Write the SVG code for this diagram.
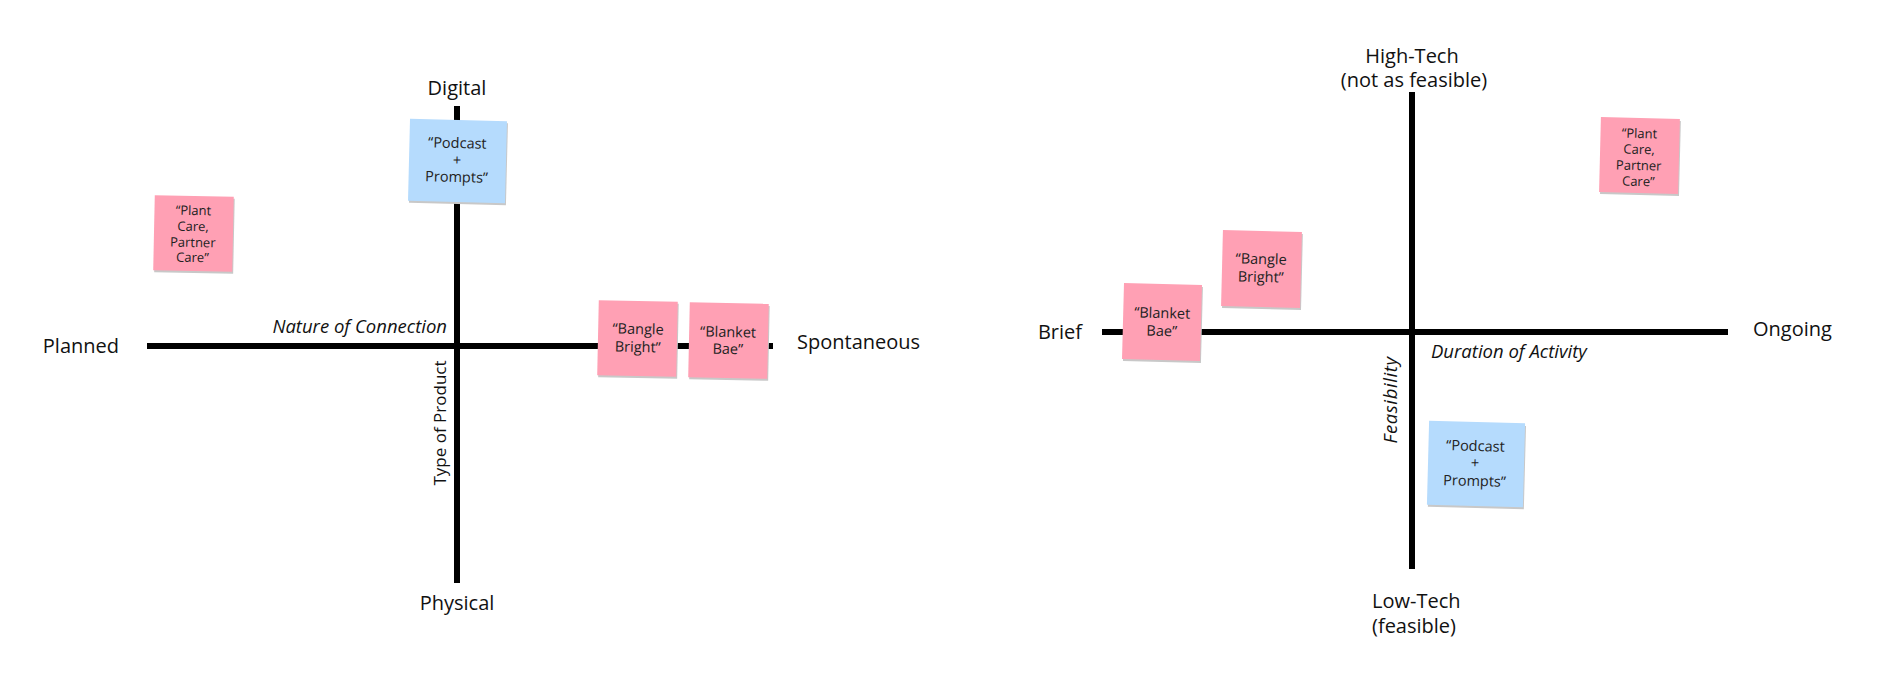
<svg xmlns="http://www.w3.org/2000/svg" width="1898" height="690" viewBox="0 0 1898 690">
<style>
.ax{stroke:#000;stroke-width:6;fill:none}
.lbl{font-family:"Open Sans","Liberation Sans",sans-serif;font-size:20px;fill:#111}
.it{font-family:"Open Sans","Liberation Sans",sans-serif;font-size:18.5px;font-style:italic;fill:#111}
.up{font-family:"Open Sans","Liberation Sans",sans-serif;font-size:17px;fill:#111}
.st{font-family:"Open Sans","Liberation Sans",sans-serif;font-size:14.5px;fill:#222;text-anchor:middle}
.sm{font-family:"Open Sans","Liberation Sans",sans-serif;font-size:13px;fill:#222;text-anchor:middle}
.pink{fill:#FFA0B4}
.blue{fill:#B5DBFD}
.sh{fill:#c8c8c8}
</style>
<rect width="1898" height="690" fill="#fff"/>
<g id="connectors">
<line class="ax" x1="147" y1="346" x2="773" y2="346"/>
<line class="ax" x1="457" y1="106" x2="457" y2="583"/>
<line class="ax" x1="1102" y1="332" x2="1728" y2="332"/>
<line class="ax" x1="1412" y1="92" x2="1412" y2="569"/>
</g>
<g id="left-labels">
<text class="lbl" x="457" y="95" text-anchor="middle">Digital</text>
<text class="lbl" x="119" y="353" text-anchor="end">Planned</text>
<text class="lbl" x="797" y="349">Spontaneous</text>
<text class="lbl" x="457" y="610" text-anchor="middle">Physical</text>
<text class="it" x="447" y="333" text-anchor="end">Nature of Connection</text>
<text class="up" transform="translate(446,423) rotate(-90)" text-anchor="middle">Type of Product</text>
</g>
<g id="right-labels">
<text class="lbl" x="1412" y="63" text-anchor="middle">High-Tech</text>
<text class="lbl" x="1414" y="87" text-anchor="middle">(not as feasible)</text>
<text class="lbl" x="1082" y="339" text-anchor="end">Brief</text>
<text class="lbl" x="1753" y="336">Ongoing</text>
<text class="lbl" x="1372" y="608">Low-Tech</text>
<text class="lbl" x="1372" y="633">(feasible)</text>
<text class="it" x="1431" y="358">Duration of Activity</text>
<text class="it" transform="translate(1397,400) rotate(-90)" text-anchor="middle" style="letter-spacing:0.6px">Feasibility</text>
</g>
<g id="L-plant" transform="rotate(1.2 193 233)">
<rect class="sh" x="155" y="198" width="79" height="75"/>
<rect class="pink" x="154" y="196" width="79" height="75"/>
<text class="sm" x="193" y="215">“Plant</text>
<text class="sm" x="193" y="231">Care,</text>
<text class="sm" x="193" y="247">Partner</text>
<text class="sm" x="193" y="262">Care”</text>
</g>
<g id="L-podcast" transform="rotate(1.4 457 161)">
<rect class="sh" x="410" y="122" width="97" height="82"/>
<rect class="blue" x="409" y="120" width="97" height="82"/>
<text class="st" x="457" y="148">“Podcast</text>
<text class="st" x="457" y="165">+</text>
<text class="st" x="457" y="182">Prompts”</text>
</g>
<g id="L-bangle" transform="rotate(1.2 637 338)">
<rect class="sh" x="599" y="303" width="79" height="75"/>
<rect class="pink" x="598" y="301" width="79" height="75"/>
<text class="st" x="638" y="334">“Bangle</text>
<text class="st" x="638" y="352">Bright”</text>
</g>
<g id="L-blanket" transform="rotate(1.2 728 340)">
<rect class="sh" x="690" y="305" width="79" height="75"/>
<rect class="pink" x="689" y="303" width="79" height="75"/>
<text class="st" x="728" y="337">“Blanket</text>
<text class="st" x="728" y="354">Bae”</text>
</g>
<g id="R-blanket" transform="rotate(1.5 1162 322)">
<rect class="sh" x="1124" y="286" width="78" height="76"/>
<rect class="pink" x="1123" y="284" width="78" height="76"/>
<text class="st" x="1162" y="318">“Blanket</text>
<text class="st" x="1162" y="336">Bae”</text>
</g>
<g id="R-bangle" transform="rotate(1.4 1261 269)">
<rect class="sh" x="1223" y="233" width="79" height="76"/>
<rect class="pink" x="1222" y="231" width="79" height="76"/>
<text class="st" x="1261" y="264">“Bangle</text>
<text class="st" x="1261" y="282">Bright”</text>
</g>
<g id="R-plant" transform="rotate(1.4 1639 155)">
<rect class="sh" x="1601" y="120" width="79" height="75"/>
<rect class="pink" x="1600" y="118" width="79" height="75"/>
<text class="sm" x="1639" y="138">“Plant</text>
<text class="sm" x="1639" y="154">Care,</text>
<text class="sm" x="1639" y="170">Partner</text>
<text class="sm" x="1639" y="186">Care”</text>
</g>
<g id="R-podcast" transform="rotate(1.5 1476 464)">
<rect class="sh" x="1429" y="424" width="96" height="84"/>
<rect class="blue" x="1428" y="422" width="96" height="84"/>
<text class="st" x="1475" y="451">“Podcast</text>
<text class="st" x="1475" y="468">+</text>
<text class="st" x="1475" y="486">Prompts”</text>
</g>
</svg>
